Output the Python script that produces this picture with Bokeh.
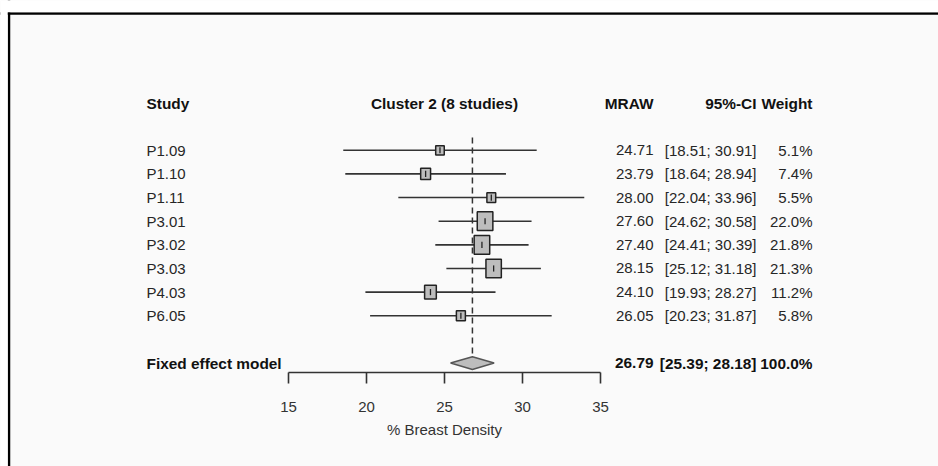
from bokeh.plotting import figure
from bokeh.models import (ColumnDataSource, Range1d, LinearAxis, FixedTicker,
                          BoxAnnotation, Span)
from bokeh.core.properties import value
from bokeh.embed import file_html
from bokeh.resources import INLINE
import math

# Study-level estimates (mean % breast density, 95% CI, fixed-effect weight)
studies = ["P1.09", "P1.10", "P1.11", "P3.01", "P3.02", "P3.03", "P4.03", "P6.05"]
mraw = [24.71, 23.79, 28.00, 27.60, 27.40, 28.15, 24.10, 26.05]
ci_lo = [18.51, 18.64, 22.04, 24.62, 24.41, 25.12, 19.93, 20.23]
ci_hi = [30.91, 28.94, 33.96, 30.58, 30.39, 31.18, 28.27, 31.87]
weight = [5.1, 7.4, 5.5, 22.0, 21.8, 21.3, 11.2, 5.8]

# Pooled (fixed effect) result
pooled_label = "Fixed effect model"
pooled_est = 26.79
pooled_lo = 25.39
pooled_hi = 28.18
pooled_weight = 100.0

x_ticks = [15, 20, 25, 30, 35]
title = "Cluster 2 (8 studies)"
x_label = "% Breast Density"

W, H = 938, 466
FONT_NAME = "Liberation Sans"
FONT = value(FONT_NAME)
FS = "15px"
FS_BOLD = "15.4px"
TXT = "#262626"

# Layout: x in effect units, y in row units (0 = header row, grows downwards)
PX_PER_X = 15.6
X0_PX = 288.0            # screen position of the first tick
ROW_PX = 23.64
ROW0_PX = 102.5


def xd(px):
    return x_ticks[0] + (px - X0_PX) / PX_PER_X


def yd(px):
    return (px - ROW0_PX) / ROW_PX


rows = [2 + i for i in range(len(studies))]
pooled_row = rows[-1] + 2
axis_row = yd(372.3)

p = figure(width=W, height=H, output_backend="svg", toolbar_location=None,
           x_range=Range1d(xd(0), xd(W)), y_range=Range1d(yd(H), yd(0)),
           x_axis_location=None, y_axis_location=None,
           min_border=0, background_fill_color="#fafafa",
           border_fill_color="#fafafa")
p.outline_line_color = None
p.xgrid.grid_line_color = None
p.ygrid.grid_line_color = None

# page frame: black rule along the top and left, white margin outside it
# (screen units count upwards from the bottom edge)
p.add_layout(Span(location=H - 13, location_units="screen", dimension="width",
                  line_color="black", line_width=2.5))
p.add_layout(Span(location=8.5, location_units="screen", dimension="height",
                  line_color="black", line_width=2.5))
p.add_layout(BoxAnnotation(top=H, bottom=H - 11.7, top_units="screen", bottom_units="screen",
                           fill_color="white", fill_alpha=1, line_color=None))
p.add_layout(BoxAnnotation(left=0, right=7.2, left_units="screen", right_units="screen",
                           fill_color="white", fill_alpha=1, line_color=None))

# reference line at the pooled estimate
p.segment(x0=[pooled_est], y0=[yd(137)], x1=[pooled_est], y1=[pooled_row - 0.27],
          line_color="#333333", line_width=1.5, line_dash="6 4")

src = ColumnDataSource(dict(
    study=studies, m=mraw, lo=ci_lo, hi=ci_hi, w=weight, y=rows,
    ytop=[r - 0.13 for r in rows], ybot=[r + 0.13 for r in rows],
    bw=[2.9 * math.sqrt(v) + 2.0 for v in weight],
    bh=[3.9 * math.sqrt(v) + 0.5 for v in weight],
    m_txt=[f"{v:.2f}" for v in mraw],
    ci_txt=[f"[{a:.2f}; {b:.2f}]" for a, b in zip(ci_lo, ci_hi)],
    w_txt=[f"{v:.1f}%" for v in weight],
))

# confidence intervals and weight-scaled squares
p.segment(x0="lo", y0="y", x1="hi", y1="y", source=src,
          line_color="#333333", line_width=1.6)
p.rect(x="m", y="y", width="bw", height="bh", width_units="screen",
       height_units="screen", source=src, fill_color="#bdbdbd",
       line_color="#222222", line_width=1.5)
p.segment(x0="m", y0="ytop", x1="m", y1="ybot", source=src,
          line_color="#222222", line_width=1.3)

# pooled diamond
p.patch(x=[pooled_lo, pooled_est, pooled_hi, pooled_est],
        y=[pooled_row, pooled_row - 0.27, pooled_row, pooled_row + 0.27],
        fill_color="#bdbdbd", line_color="#555555", line_width=1.5)

# text columns
COL_STUDY = xd(146)
COL_M = xd(653)
COL_CI = xd(756)
COL_W = xd(812)

common = dict(text_font=FONT, text_font_size=FS, text_color=TXT,
              text_baseline="middle")
p.text(x=COL_STUDY, y="y", text="study", source=src, text_align="left", **common)
p.text(x=COL_M, y="y", text="m_txt", source=src, text_align="right", **common)
p.text(x=COL_CI, y="y", text="ci_txt", source=src, text_align="right", **common)
p.text(x=COL_W, y="y", text="w_txt", source=src, text_align="right", **common)

bold = dict(common, text_font_style="bold", text_color="#111111",
            text_font_size=FS_BOLD)
hdr = ColumnDataSource(dict(
    x=[COL_STUDY, 25, COL_M, COL_CI, COL_W],
    y=[0] * 5,
    t=["Study", title, "MRAW", "95%-CI", "Weight"],
    a=["left", "center", "right", "right", "right"],
))
p.text(x="x", y="y", text="t", text_align="a", source=hdr, **bold)

pool = ColumnDataSource(dict(
    x=[COL_STUDY, COL_M, COL_CI, COL_W],
    y=[pooled_row] * 4,
    t=[pooled_label, f"{pooled_est:.2f}", f"[{pooled_lo:.2f}; {pooled_hi:.2f}]",
       f"{pooled_weight:.1f}%"],
    a=["left", "right", "right", "right"],
))
p.text(x="x", y="y", text="t", text_align="a", source=pool, **bold)

# effect axis
ax = LinearAxis(fixed_location=axis_row, ticker=FixedTicker(ticks=x_ticks),
                bounds=(x_ticks[0], x_ticks[-1]), axis_label=x_label)
ax.axis_line_color = "#333333"
ax.axis_line_width = 1.6
ax.major_tick_line_color = "#333333"
ax.major_tick_line_width = 1.6
ax.major_tick_in = 0
ax.major_tick_out = 11
ax.minor_tick_in = 0
ax.minor_tick_out = 0
ax.major_label_standoff = 18
ax.major_label_text_font = FONT_NAME
ax.major_label_text_font_size = FS
ax.major_label_text_color = "#333333"
ax.axis_label_standoff = 6
ax.axis_label_text_font = FONT_NAME
ax.axis_label_text_font_size = FS
ax.axis_label_text_font_style = "normal"
ax.axis_label_text_color = "#333333"
p.add_layout(ax, "below")

open("out.html", "w").write(file_html(p, INLINE))
